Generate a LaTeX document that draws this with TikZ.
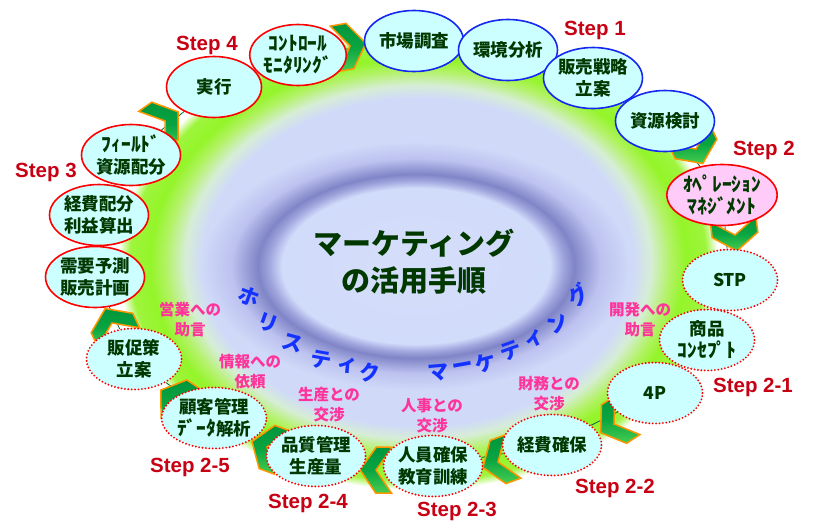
\documentclass[tikz,border=0pt]{standalone}
\usepackage{fontspec}
\setmainfont{Liberation Sans}
\newfontfamily\jpb{Noto Sans CJK JP}
\newfontfamily\jpm{Noto Sans CJK JP}
\usetikzlibrary{shapes.geometric}
\pgfdeclarelayer{bg}
\pgfdeclarelayer{mid}
\pgfsetlayers{bg,mid,main}
\definecolor{nodefill}{RGB}{204,255,255}
\definecolor{pinkfill}{RGB}{255,204,250}
\definecolor{bblue}{RGB}{20,40,240}
\definecolor{rred}{RGB}{255,0,0}
\definecolor{txtgreen}{RGB}{0,56,0}
\definecolor{steprd}{RGB}{200,0,20}
\definecolor{pinktxt}{RGB}{255,51,153}
\definecolor{arcblue}{RGB}{20,50,255}
\definecolor{chevor}{RGB}{255,150,0}
\definecolor{chevdk}{RGB}{0,150,60}
\definecolor{chevmd}{RGB}{10,165,65}
\definecolor{chevlt}{RGB}{70,205,80}
\definecolor{linkgr}{RGB}{0,110,60}
\newcommand\hk[1]{{\fontsize{19.5}{22}\selectfont #1}}
\pgfdeclareradialshading{bgouter}{\pgfpoint{0bp}{0bp}}{%
 rgb(0bp)=(0.816,0.855,0.973);
 rgb(18bp)=(0.816,0.855,0.973);
 rgb(19.4bp)=(0.84,0.93,0.84);
 rgb(21bp)=(0.70,0.95,0.40);
 rgb(22.3bp)=(0.58,0.96,0.16);
 rgb(24bp)=(0.62,0.96,0.24);
 rgb(25bp)=(1,1,1);
 rgb(50bp)=(1,1,1)}
\pgfdeclareradialshading{bginner}{\pgfpoint{0bp}{0bp}}{%
 rgb(0bp)=(0.835,0.87,0.98);
 rgb(15.6bp)=(0.82,0.86,0.98);
 rgb(17.1bp)=(0.63,0.65,0.87);
 rgb(18.4bp)=(0.50,0.52,0.78);
 rgb(21.5bp)=(0.74,0.76,0.94);
 rgb(25bp)=(0.816,0.855,0.973);
 rgb(50bp)=(0.816,0.855,0.973)}
\newcommand\chevr[3]{%
 \begin{scope}[shift={(#1,#2)}, rotate=#3]
 \draw[chevst] (-16pt,23pt) -- (0pt,23pt) -- (16pt,0pt) -- (0pt,-23pt) -- (-16pt,-23pt) -- (0pt,0pt) -- cycle;
 \end{scope}}
\begin{document}
\begin{tikzpicture}[x=1pt,y=-1pt,
 nd/.style={ellipse, minimum width=95pt, minimum height=61pt, inner sep=0pt, fill=nodefill, text=txtgreen, font=\jpb\bfseries\fontsize{17.5}{22}\selectfont, align=center, line width=1.6pt},
 bnd/.style={nd, draw=bblue},
 rnd/.style={nd, draw=rred},
 dnd/.style={nd, draw=rred, line cap=round, dash pattern=on 0pt off 3.4pt, line width=2.1pt},
 stepl/.style={text=steprd, font=\bfseries\fontsize{20.5}{24}\selectfont, inner sep=0pt},
 pinkl/.style={text=pinktxt, font=\jpb\bfseries\fontsize{15.5}{20}\selectfont, align=center, inner sep=0pt},
 arcl/.style={text=arcblue, font=\jpm\bfseries\fontsize{21}{24}\selectfont, inner sep=0pt},
 ctext/.style={text=txtgreen, font=\jpm\bfseries\fontsize{29}{37}\selectfont, align=center, inner sep=0pt},
 link/.style={draw=linkgr, line width=0.8pt},
 chevst/.style={draw=chevor, line width=1.5pt, line join=miter, top color=chevdk, bottom color=chevlt, middle color=chevmd}]
\begin{pgfonlayer}{bg}
\fill[white] (0,0) rectangle (814,520);
\shade[shading=bgouter] (418,262) ellipse [x radius=300pt, y radius=228pt];
\shade[shading=bginner] (416,266) ellipse [x radius=215pt, y radius=125pt];
\end{pgfonlayer}
\useasboundingbox (0,0) rectangle (814,520);
% nodes
\node[bnd] (m1) at (414,41) {市場調査};
\node[bnd] (m2) at (508,50) {環境分析};
\node[bnd] (m3) at (593,78) {販売戦略\\立案};
\node[bnd] (m4) at (665,121) {資源検討};
\node[rnd, fill=pinkfill] (op) at (722,195) {\hk{ｵﾍﾟﾚｰｼｮﾝ}\\\hk{ﾏﾈｼﾞﾒﾝﾄ}};
\node[dnd] (stp) at (730,280) {STP};
\node[dnd] (sh) at (707,340) {商品\\\hk{ｺﾝｾﾌﾟﾄ}};
\node[dnd] (p4) at (655,393) {4P};
\node[dnd] (kh) at (552,445) {経費確保};
\node[dnd] (jin) at (433,466) {人員確保\\教育訓練};
\node[dnd] (hin) at (316,456) {品質管理\\生産量};
\node[dnd] (kok) at (214,418) {顧客管理\\\hk{ﾃﾞｰﾀ}解析};
\node[dnd] (han) at (134,359) {販促策\\立案};
\node[rnd] (ju) at (95,277) {需要予測\\販売計画};
\node[rnd] (kei) at (99,215) {経費配分\\利益算出};
\node[rnd, minimum width=91pt] (fi) at (131,155) {\hk{ﾌｨｰﾙﾄﾞ}\\資源配分};
\node[rnd] (ji) at (214,87) {実行};
\node[rnd] (co) at (298,55) {\hk{ｺﾝﾄﾛｰﾙ}\\\hk{ﾓﾆﾀﾘﾝｸﾞ}};
% connectors and chevrons
\begin{pgfonlayer}{mid}
\draw[link] (m1) -- (m2);
\draw[link] (m2) -- (m3);
\draw[link] (m3) -- (m4);
\draw[link] (m4) -- (op);
\draw[link] (op) -- (stp);
\draw[link] (stp) -- (sh);
\draw[link] (sh) -- (p4);
\draw[link] (p4) -- (kh);
\draw[link] (kh) -- (jin);
\draw[link] (jin) -- (hin);
\draw[link] (hin) -- (kok);
\draw[link] (kok) -- (han);
\draw[link] (han) -- (ju);
\draw[link] (ju) -- (kei);
\draw[link] (kei) -- (fi);
\draw[link] (fi) -- (ji);
\draw[link] (ji) -- (co);
\draw[link] (co) -- (m1);
\chevr{350}{46}{10}
\chevr{165}{121}{35}
\chevr{696}{149}{-65}
\chevr{735}{235}{-83}
\chevr{614}{424}{213}
\chevr{498}{462}{200}
\chevr{376}{470}{179}
\chevr{267}{447}{160}
\chevr{174}{399}{146}
\chevr{112}{323}{115}
\end{pgfonlayer}
% center title
\node[ctext] (ct) at (414,262) {マーケティング\\の活用手順};
% arc text
\node[arcl, rotate=-20] (a1) at (249,297) {ホ};
\node[arcl, rotate=-20] (a2) at (268,323) {リ};
\node[arcl, rotate=-15] (a3) at (293,343) {ス};
\node[arcl, rotate=-10] (a4) at (321,360) {テ};
\node[arcl, rotate=-5] (a5) at (347,366) {ィ};
\node[arcl] (a6) at (370,372) {ク};
\node[arcl, rotate=5] (b1) at (438,373) {マ};
\node[arcl, rotate=10] (b2) at (463,368) {ー};
\node[arcl, rotate=15] (b3) at (486,363) {ケ};
\node[arcl, rotate=20] (b4) at (511,351) {テ};
\node[arcl, rotate=25] (b5) at (535,339) {ィ};
\node[arcl, rotate=35] (b6) at (558,323) {ン};
\node[arcl, rotate=40] (b7) at (578,295) {グ};
% step labels
\node[stepl] (s1) at (595,30) {Step 1};
\node[stepl] (s2) at (764,150) {Step 2};
\node[stepl] (s3) at (46,172) {Step 3};
\node[stepl] (s4) at (207,45) {Step 4};
\node[stepl] (s21) at (753,387) {Step 2-1};
\node[stepl] (s22) at (615,488) {Step 2-2};
\node[stepl] (s23) at (457,511) {Step 2-3};
\node[stepl] (s24) at (308,503) {Step 2-4};
\node[stepl] (s25) at (190,467) {Step 2-5};
% pink labels
\node[pinkl] (l1) at (190,320) {営業への\\助言};
\node[pinkl] (l2) at (250,372) {情報への\\依頼};
\node[pinkl] (l3) at (329,405) {生産との\\交渉};
\node[pinkl] (l4) at (432,416) {人事との\\交渉};
\node[pinkl] (l5) at (549,394) {財務との\\交渉};
\node[pinkl] (l6) at (640,320) {開発への\\助言};
\end{tikzpicture}
\end{document}
